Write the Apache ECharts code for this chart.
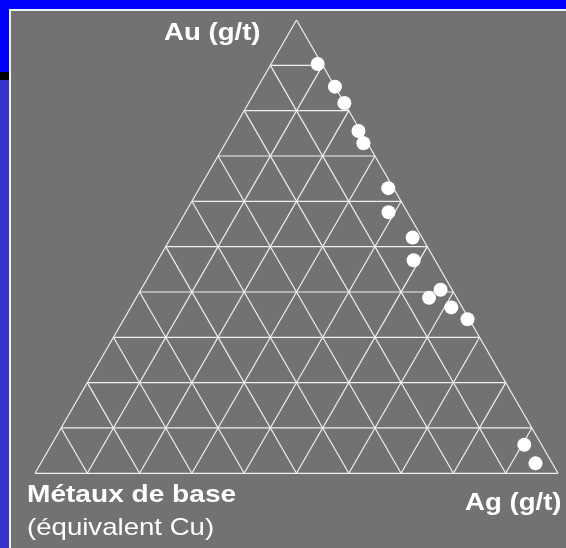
<!DOCTYPE html>
<html>
<head>
<meta charset="utf-8">
<script src="https://cdn.jsdelivr.net/npm/echarts@6/dist/echarts.min.js"></script>
<style>
html,body{margin:0;padding:0;background:#727272;}
#chart{width:566px;height:548px;}
</style>
</head>
<body>
<div id="chart"></div>
<script>
// Ternary data: fractions of Au, Ag; base metals = remainder
const auValues = [0.903, 0.853, 0.817, 0.755, 0.728, 0.629, 0.576, 0.520, 0.470, 0.405, 0.387, 0.366, 0.340, 0.063, 0.022];
const agValues = [0.089, 0.147, 0.183, 0.241, 0.264, 0.361, 0.388, 0.462, 0.489, 0.573, 0.560, 0.613, 0.657, 0.904, 0.946];
const gridTicks = [0.1, 0.2, 0.3, 0.4, 0.5, 0.6, 0.7, 0.8, 0.9];
const labelAu = 'Au (g/t)';
const labelAg = 'Ag (g/t)';
const labelBase1 = 'Métaux de base';
const labelBase2 = '(équivalent Cu)';

const H = Math.sqrt(3) / 2;
// ternary (au, ag) -> cartesian
function tern(au, ag) { return [ag + au / 2, au * H]; }

// grid lines parallel to each side
const gridLines = [];
gridTicks.forEach(t => {
  gridLines.push([tern(t, 0), tern(t, 1 - t)]);       // constant Au
  gridLines.push([tern(0, t), tern(1 - t, t)]);       // constant Ag
  gridLines.push([tern(1 - t, 0), tern(0, 1 - t)]);   // constant base
});
// outline
gridLines.push([tern(0, 0), tern(0, 1)]);
gridLines.push([tern(0, 1), tern(1, 0)]);
gridLines.push([tern(1, 0), tern(0, 0)]);

const points = auValues.map((a, i) => tern(a, agValues[i]));

const lineSeries = gridLines.map(seg => ({
  type: 'line',
  data: seg,
  symbol: 'none',
  silent: true,
  animation: false,
  lineStyle: { color: '#f0f0f0', width: 1.2 },
  z: 2
}));

const chart = echarts.init(document.getElementById('chart'), null, { renderer: 'canvas' });
const txtFill = '#ffffff';
chart.setOption({
  animation: false,
  backgroundColor: '#727272',
  graphic: [
    { type: 'rect', z: -10, shape: { x: 0, y: 0, width: 566, height: 548 }, style: { fill: '#0000ff' } },
    { type: 'rect', z: -10, shape: { x: 0, y: 72, width: 9, height: 8 }, style: { fill: '#000000' } },
    { type: 'rect', z: -10, shape: { x: 0, y: 80, width: 9, height: 468 }, style: { fill: '#3333cc' } },
    { type: 'rect', z: -9, shape: { x: 9, y: 9, width: 557, height: 539 }, style: { fill: '#f0f0f0' } },
    { type: 'rect', z: -8, shape: { x: 11, y: 11, width: 555, height: 537 }, style: { fill: '#727272' } },
    { type: 'text', z: 10, x: 164, y: 41 - 8, scaleX: 1.15,
      style: { text: labelAu, fill: txtFill, font: 'bold 24px "Liberation Sans", Arial, sans-serif', textAlign: 'left', textVerticalAlign: 'middle' } },
    { type: 'text', z: 10, x: 465, y: 510 - 7, scaleX: 1.15,
      style: { text: labelAg, fill: txtFill, font: 'bold 24px "Liberation Sans", Arial, sans-serif', textAlign: 'left', textVerticalAlign: 'middle' } },
    { type: 'text', z: 10, x: 27, y: 502 - 7, scaleX: 1.17,
      style: { text: labelBase1, fill: txtFill, font: 'bold 24px "Liberation Sans", Arial, sans-serif', textAlign: 'left', textVerticalAlign: 'middle' } },
    { type: 'text', z: 10, x: 27, y: 536 - 8, scaleX: 1.15,
      style: { text: labelBase2, fill: txtFill, font: '24px "Liberation Sans", Arial, sans-serif', textAlign: 'left', textVerticalAlign: 'middle' } }
  ],
  grid: { left: 35, top: 20, width: 523, height: 453.3, containLabel: false },
  xAxis: { type: 'value', min: 0, max: 1, show: false },
  yAxis: { type: 'value', min: 0, max: H, show: false },
  series: lineSeries.concat([{
    type: 'scatter',
    data: points,
    symbol: 'circle',
    symbolSize: 14,
    itemStyle: { color: '#ffffff', opacity: 1 },
    z: 5
  }])
});
</script>
</body>
</html>
